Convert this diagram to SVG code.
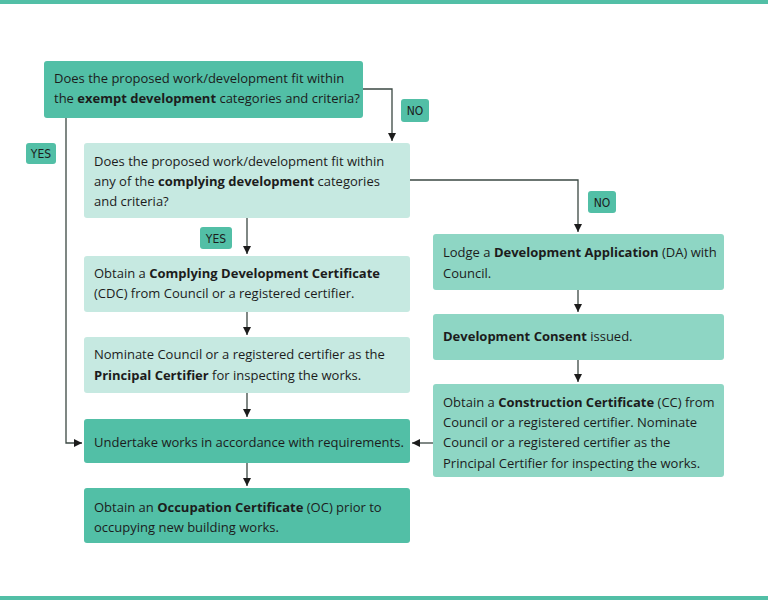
<svg xmlns="http://www.w3.org/2000/svg" width="768" height="600" viewBox="0 0 768 600">
<style>
.t{font-family:"Open Sans","Noto Sans",sans-serif;font-size:13px;fill:#1c1c1c}
.b{font-weight:bold}
.dk{fill:#52bfa6}
.md{fill:#8ed6c4}
.lt{fill:#c6e9e1}
.lbl{fill:#52bfa6}
.lt2{font-family:"DejaVu Sans Condensed","DejaVu Sans",sans-serif;font-size:12px;fill:#1c1c1c;text-anchor:middle}
.c{fill:none;stroke:#3b4843;stroke-width:1.3}
</style>
<defs>
<marker id="ah" viewBox="0 0 10 10" refX="10" refY="5" markerWidth="8" markerHeight="8" markerUnits="userSpaceOnUse" orient="auto">
<path d="M0,0 L10,5 L0,10 z" fill="#1c1c1c"/>
</marker>
</defs>
<rect x="0" y="0" width="768" height="4" fill="#52bfa6"/>
<rect x="0" y="596" width="768" height="4" fill="#52bfa6"/>
<g id="connectors">
<polyline class="c" points="363,89 392,89 392,141" marker-end="url(#ah)"/>
<polyline class="c" points="66,118 66,443 82,443" marker-end="url(#ah)"/>
<polyline class="c" points="410,180 578,180 578,232" marker-end="url(#ah)"/>
<line class="c" x1="247" y1="218" x2="247" y2="254" marker-end="url(#ah)"/>
<line class="c" x1="247" y1="312" x2="247" y2="335" marker-end="url(#ah)"/>
<line class="c" x1="247" y1="393" x2="247" y2="417" marker-end="url(#ah)"/>
<line class="c" x1="247" y1="463" x2="247" y2="486" marker-end="url(#ah)"/>
<line class="c" x1="578" y1="290" x2="578" y2="312" marker-end="url(#ah)"/>
<line class="c" x1="578" y1="360" x2="578" y2="382" marker-end="url(#ah)"/>
<line class="c" x1="433" y1="443" x2="412" y2="443" marker-end="url(#ah)"/>
</g>
<g id="label-no1"><rect class="lbl" x="401" y="99" width="28" height="23" rx="3"/><text class="lt2" x="415" y="115">NO</text></g>
<g id="label-yes1"><rect class="lbl" x="26" y="143" width="30" height="21" rx="3"/><text class="lt2" x="41" y="158">YES</text></g>
<g id="label-no2"><rect class="lbl" x="588" y="191" width="28" height="22" rx="3"/><text class="lt2" x="602" y="206.5">NO</text></g>
<g id="label-yes2"><rect class="lbl" x="200" y="227" width="32" height="22" rx="3"/><text class="lt2" x="216" y="242.5">YES</text></g>
<g id="n1">
<rect class="dk" x="44" y="61" width="319" height="57" rx="3"/>
<text class="t" x="54" y="83">Does the proposed work/development fit within</text>
<text class="t" x="54" y="103">the <tspan class="b">exempt development</tspan> categories and criteria?</text>
</g>
<g id="n2">
<rect class="lt" x="84" y="143" width="326" height="75" rx="3"/>
<text class="t" x="94" y="166">Does the proposed work/development fit within</text>
<text class="t" x="94" y="186">any of the <tspan class="b">complying development</tspan> categories</text>
<text class="t" x="94" y="206">and criteria?</text>
</g>
<g id="n3">
<rect class="lt" x="84" y="256" width="326" height="56" rx="3"/>
<text class="t" x="94" y="278">Obtain a <tspan class="b">Complying Development Certificate</tspan></text>
<text class="t" x="94" y="298">(CDC) from Council or a registered certifier.</text>
</g>
<g id="n4">
<rect class="lt" x="84" y="337" width="326" height="56" rx="3"/>
<text class="t" x="94" y="359">Nominate Council or a registered certifier as the</text>
<text class="t" x="94" y="380"><tspan class="b">Principal Certifier</tspan> for inspecting the works.</text>
</g>
<g id="n5">
<rect class="dk" x="84" y="419" width="326" height="44" rx="3"/>
<text class="t" x="94" y="447">Undertake works in accordance with requirements.</text>
</g>
<g id="n6">
<rect class="dk" x="84" y="488" width="326" height="55" rx="3"/>
<text class="t" x="94" y="512">Obtain an <tspan class="b">Occupation Certificate</tspan> (OC) prior to</text>
<text class="t" x="94" y="532">occupying new building works.</text>
</g>
<g id="n7">
<rect class="md" x="433" y="234" width="291" height="56" rx="3"/>
<text class="t" x="443" y="257">Lodge a <tspan class="b">Development Application</tspan> (DA) with</text>
<text class="t" x="443" y="278">Council.</text>
</g>
<g id="n8">
<rect class="md" x="433" y="314" width="291" height="46" rx="3"/>
<text class="t" x="443" y="341"><tspan class="b">Development Consent</tspan> issued.</text>
</g>
<g id="n9">
<rect class="md" x="433" y="384" width="291" height="93" rx="3"/>
<text class="t" x="443" y="407">Obtain a <tspan class="b">Construction Certificate</tspan> (CC) from</text>
<text class="t" x="443" y="427">Council or a registered certifier. Nominate</text>
<text class="t" x="443" y="447">Council or a registered certifier as the</text>
<text class="t" x="443" y="468">Principal Certifier for inspecting the works.</text>
</g>
</svg>
